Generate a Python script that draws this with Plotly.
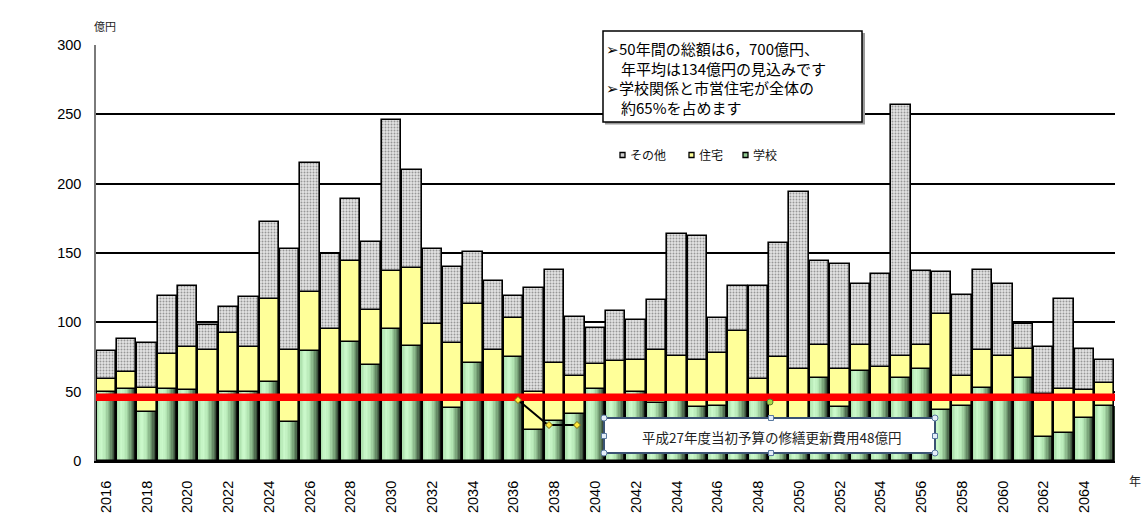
import plotly.graph_objects as go

# ---------------- data (億円) ----------------
years = list(range(2016, 2066))
school = [50, 52, 35, 52, 51, 47, 50, 50, 57, 28,
          79, 47, 86, 69, 95, 83, 47, 38, 71, 47,
          75, 22, 29, 34, 52, 47, 50, 42, 47, 39,
          40, 47, 47, 28, 28, 60, 39, 65, 47, 60,
          66, 37, 40, 53, 47, 60, 17, 20, 31, 40]
housing = [9, 12, 18, 25, 31, 33, 42, 32, 60, 52,
           43, 48, 58, 40, 42, 56, 52, 47, 42, 33,
           28, 28, 42, 27, 18, 25, 23, 38, 29, 34,
           38, 47, 12, 47, 38, 24, 27, 19, 21, 16,
           18, 69, 21, 27, 29, 21, 31, 32, 20, 16]
other = [20, 24, 32, 42, 44, 18, 19, 36, 55, 73,
         93, 54, 45, 49, 109, 71, 54, 55, 38, 50,
         16, 75, 67, 43, 26, 36, 29, 36, 88, 89,
         25, 32, 67, 82, 128, 60, 76, 44, 67, 181,
         53, 30, 59, 58, 52, 18, 34, 65, 30, 17]
budget_line = 46  # 修繕更新費用ライン (drawn position)
x_ticks = list(range(2016, 2066, 2))
y_ticks = [0, 50, 100, 150, 200, 250, 300]
series_names = ["その他", "住宅", "学校"]

# ---------------- geometry helpers ----------------
W, H = 1144, 516
ML, MR, MT, MB = 96, 29, 45, 55
PW, PH = W - ML - MR, H - MT - MB


def px(x):
    return (x - ML) / PW


def py(y):
    return (H - MB - y) / PH


JP = "Noto Sans CJK JP"
LAT = "Liberation Sans"

fig = go.Figure()

# green cylinder-like gradient for 学校 bars (vertical strips)
stops = [(0.0, (170, 222, 170)), (0.22, (205, 250, 205)), (0.45, (182, 232, 182)),
         (0.7, (118, 160, 118)), (0.88, (62, 85, 62)), (1.0, (35, 45, 35))]


def grad(t):
    for (t0, c0), (t1, c1) in zip(stops[:-1], stops[1:]):
        if t0 <= t <= t1:
            f = (t - t0) / (t1 - t0)
            return "rgb(%d,%d,%d)" % tuple(round(a + (b - a) * f) for a, b in zip(c0, c1))
    return "rgb(%d,%d,%d)" % stops[-1][1]


BW = 0.95
N = 14
for i in range(N):
    off = -BW / 2 + i * BW / N
    wdt = BW / N * 1.6 if i < N - 1 else BW / N
    wdt = min(wdt, BW / 2 - off)
    fig.add_bar(x=years, y=school, width=wdt, offset=off,
                marker=dict(color=grad((i + 0.5) / N), line=dict(width=0)),
                showlegend=False, hoverinfo="skip")

fig.add_bar(x=years, y=school, width=BW, offset=-BW / 2, name=series_names[2],
            marker=dict(color="rgba(0,0,0,0)", line=dict(color="black", width=1.6)),
            showlegend=False)

house_base = school
fig.add_bar(x=years, y=housing, base=house_base, width=BW, offset=-BW / 2,
            name=series_names[1],
            marker=dict(color="#ffff99", line=dict(color="black", width=1.6)),
            showlegend=False)

other_base = [a + b for a, b in zip(school, housing)]
fig.add_bar(x=years, y=other, base=other_base, width=BW, offset=-BW / 2,
            name=series_names[0],
            marker=dict(color="#d8d8d8", line=dict(color="black", width=1.6),
                        pattern=dict(shape=".", fgcolor="#4a4a4a", bgcolor="#e4e4e4",
                                     size=3, solidity=0.35, fillmode="overlay")),
            showlegend=False)

shapes = []
annotations = []

# red budget line
shapes.append(dict(type="line", xref="paper", yref="y", x0=0, x1=1,
                   y0=budget_line, y1=budget_line, layer="above",
                   line=dict(color="#ff0000", width=7.5)))

# ---- upper text box ----
shapes.append(dict(type="rect", xref="paper", yref="paper", layer="above",
                   x0=px(605), x1=px(865), y0=py(33), y1=py(124.5),
                   fillcolor="#9a9a9a", line=dict(width=0)))
shapes.append(dict(type="rect", xref="paper", yref="paper", layer="above",
                   x0=px(603), x1=px(862), y0=py(31), y1=py(122),
                   fillcolor="white", line=dict(color="black", width=1.5)))
annotations.append(dict(
    xref="paper", yref="paper", x=px(604), y=py(36), xanchor="left", yanchor="top",
    align="left", showarrow=False,
    text="➢50年間の総額は6，700億円、<br>　年平均は134億円の見込みです<br>"
         "➢学校関係と市営住宅が全体の<br>　約65%を占めます",
    font=dict(family=JP, size=15, color="black")))

# ---- manual legend ----
leg = [(620, "#cfcfcf", series_names[0], 628),
       (689, "#ffff99", series_names[1], 697),
       (743, "#8fc88f", series_names[2], 751)]
for sx, col, name, tx in leg:
    shapes.append(dict(type="rect", xref="paper", yref="paper", layer="above",
                       x0=px(sx), x1=px(sx + 5), y0=py(152.5), y1=py(157.5),
                       fillcolor=col, line=dict(color="black", width=1.3)))
    annotations.append(dict(xref="paper", yref="paper", x=px(tx), y=py(155),
                            xanchor="left", yanchor="middle", showarrow=False,
                            text=name, font=dict(family=JP, size=12, color="#111")))

# ---- lower callout box ----
bx0, bx1, by0, by1 = 604, 935, 418, 453
shapes.append(dict(type="path", xref="paper", yref="paper", layer="above",
                   path="M %f,%f L %f,%f L %f,%f" % (px(518), py(400), px(548), py(425),
                                                   px(577), py(425)),
                   line=dict(color="black", width=2)))
shapes.append(dict(type="rect", xref="paper", yref="paper", layer="above",
                   x0=px(bx0), x1=px(bx1), y0=py(by0), y1=py(by1),
                   fillcolor="white", line=dict(color="#3a5273", width=2)))
annotations.append(dict(xref="paper", yref="paper", x=px(771), y=py(436.5),
                        xanchor="center", yanchor="middle", showarrow=False,
                        text="平成27年度当初予算の修繕更新費用48億円",
                        font=dict(family=JP, size=13.5, color="#222")))


def handle(cx, cy, kind, fill, edge, r=3):
    if kind == "circle":
        shapes.append(dict(type="circle", xref="paper", yref="paper", layer="above",
                           x0=px(cx - r), x1=px(cx + r), y0=py(cy - r), y1=py(cy + r),
                           fillcolor=fill, line=dict(color=edge, width=1)))
    elif kind == "square":
        shapes.append(dict(type="rect", xref="paper", yref="paper", layer="above",
                           x0=px(cx - r), x1=px(cx + r), y0=py(cy - r), y1=py(cy + r),
                           fillcolor=fill, line=dict(color=edge, width=1)))
    else:
        shapes.append(dict(type="path", xref="paper", yref="paper", layer="above",
                           path="M %f,%f L %f,%f L %f,%f L %f,%f Z" % (
                               px(cx), py(cy - r), px(cx + r), py(cy),
                               px(cx), py(cy + r), px(cx - r), py(cy)),
                           fillcolor=fill, line=dict(color=edge, width=1)))


hf, he = "#e4eef8", "#5a7aa0"
for cx in (bx0, bx1):
    for cy in (by0, by1):
        handle(cx, cy, "circle", hf, he)
for cx, cy in ((771, by0), (771, by1), (bx0, 436), (bx1, 436)):
    handle(cx, cy, "square", hf, he, r=2.5)
handle(770, 402, "circle", "#a8d848", "#5a7a30")
for cx, cy in ((518, 400), (549, 425), (577, 425)):
    handle(cx, cy, "diamond", "#ffe83a", "#7a6a10", r=3.5)

# axis captions
annotations.append(dict(xref="paper", yref="paper", x=px(92), y=py(26),
                        xanchor="left", yanchor="middle", showarrow=False,
                        text="億円", font=dict(family=JP, size=11, color="#222")))
annotations.append(dict(xref="paper", yref="paper", x=px(1135), y=py(480),
                        xanchor="center", yanchor="middle", showarrow=False,
                        text="年", font=dict(family=JP, size=12, color="#222")))

fig.update_layout(
    width=W, height=H, margin=dict(l=ML, r=MR, t=MT, b=MB, pad=0, autoexpand=False),
    barmode="overlay", bargap=0,
    plot_bgcolor="white", paper_bgcolor="white",
    showlegend=False, shapes=shapes, annotations=annotations,
    xaxis=dict(range=[2015.5, 2065.5], tickvals=x_ticks, ticktext=[str(v) for v in x_ticks],
               tickangle=-90, tickfont=dict(family=LAT, size=14.5, color="black"),
               showgrid=False, zeroline=False, showline=True, linecolor="black",
               linewidth=2, ticks="", ticklabelstandoff=12, automargin=False,
               fixedrange=True),
    yaxis=dict(range=[0, 300], tickvals=y_ticks, tickfont=dict(family=LAT, size=14.5, color="black"),
               showgrid=True, gridcolor="black", gridwidth=1.5, zeroline=False,
               showline=True, linecolor="#7a7a7a", linewidth=1.5, ticks="",
               ticklabelstandoff=10, automargin=False, fixedrange=True),
)

fig.write_html("out.html", config={"displayModeBar": False})
